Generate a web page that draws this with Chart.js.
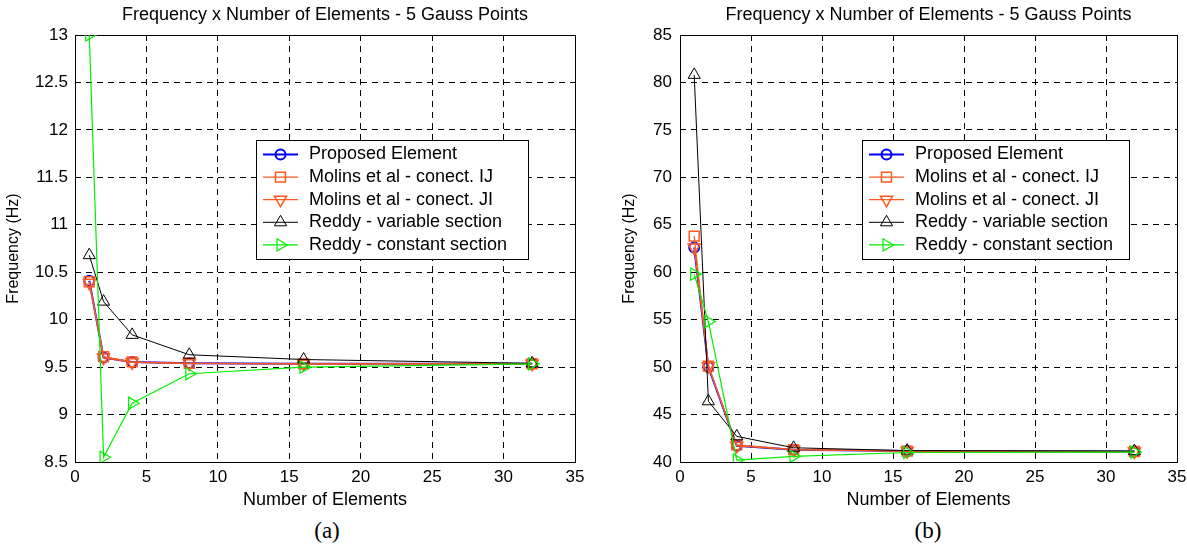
<!DOCTYPE html>
<html>
<head>
<meta charset="utf-8">
<script src="https://cdn.jsdelivr.net/npm/chart.js@4.4.1/dist/chart.umd.min.js"></script>
<style>
  html, body { margin: 0; padding: 0; background: #fff; overflow: hidden; }
  body { width: 1187px; height: 553px; position: relative; }
  canvas { position: absolute; top: 0; }
  #chartA { left: 0; }
  #chartB { left: 605px; }
  .caption { position: absolute; top: 518px; font: 23px 'Liberation Serif', 'Times New Roman', serif; line-height: 26px; transform: translateX(-50%); }
</style>
</head>
<body>
<canvas id="chartA" width="650" height="515"></canvas>
<canvas id="chartB" width="647" height="515"></canvas>
<div class="caption" style="left:327px">(a)</div>
<div class="caption" style="left:928px">(b)</div>
<script>
// number of elements used in the mesh
const elements = [1, 2, 4, 8, 16, 32];
const xTicks = [0, 5, 10, 15, 20, 25, 30, 35];

// (a) frequencies, Hz
const proposedA = [10.41, 9.60, 9.555, 9.54, 9.535, 9.535];
const molinsIJA = [10.40, 9.61, 9.555, 9.54, 9.535, 9.535];
const molinsJIA = [10.39, 9.60, 9.55, 9.54, 9.535, 9.535];
const reddyVarA = [10.68, 10.19, 9.84, 9.63, 9.58, 9.54];
const reddyConstA = [13.00, 8.55, 9.12, 9.43, 9.50, 9.535];
const yTicksA = [8.5, 9, 9.5, 10, 10.5, 11, 11.5, 12, 12.5, 13];

// (b) frequencies, Hz
const proposedB = [62.6, 50.0, 41.7, 41.3, 41.15, 41.1];
const molinsIJB = [63.8, 50.1, 41.8, 41.3, 41.15, 41.1];
const molinsJIB = [62.6, 50.1, 41.7, 41.3, 41.15, 41.1];
const reddyVarB = [80.8, 46.4, 42.7, 41.5, 41.2, 41.15];
const reddyConstB = [59.8, 54.8, 40.2, 40.6, 41.0, 41.05];
const yTicksB = [40, 45, 50, 55, 60, 65, 70, 75, 80, 85];

const seriesNames = [
    'Proposed Element',
    'Molins et al - conect. IJ',
    'Molins et al - conect. JI',
    'Reddy - variable section',
    'Reddy - constant section'
];

const FONT = "'Liberation Sans', Arial, sans-serif";
Chart.defaults.color = '#000';
Chart.defaults.font.family = FONT;

// matlab-ish look for each series
function seriesStyle(i) {
    const styles = [
        { color: '#0000ff', pointStyle: 'circle', rotation: 0, radius: 5, width: 2, pointWidth: 2 },
        { color: '#ff5a1f', pointStyle: 'rect', rotation: 0, radius: 7, width: 1.2, pointWidth: 1.5 },
        { color: '#ff5a1f', pointStyle: 'triangle', rotation: 180, radius: 7, width: 1.2, pointWidth: 1.5 },
        { color: '#000000', pointStyle: 'triangle', rotation: 0, radius: 7, width: 1, pointWidth: 1 },
        { color: '#00ee00', pointStyle: 'triangle', rotation: 90, radius: 7, width: 1.2, pointWidth: 1.2 }
    ];
    return styles[i];
}

const frameAndLegend = {
    id: 'frameAndLegend',
    beforeDatasetsDraw(chart) {
        const { ctx, chartArea } = chart;
        ctx.save();
        ctx.strokeStyle = '#000';
        ctx.lineWidth = 1;
        ctx.setLineDash([]);
        const l = Math.round(chartArea.left) + 0.5, t = Math.round(chartArea.top) + 0.5;
        const r = Math.round(chartArea.right) + 0.5, b = Math.round(chartArea.bottom) + 0.5;
        ctx.strokeRect(l, t, r - l, b - t);
        ctx.restore();
    },
    afterDatasetsDraw(chart, args, opts) {
        const ctx = chart.ctx;
        ctx.save();
        ctx.fillStyle = '#fff';
        ctx.fillRect(opts.left, opts.top, opts.width, opts.height);
        ctx.strokeStyle = '#000';
        ctx.lineWidth = 1;
        ctx.strokeRect(opts.left + 0.5, opts.top + 0.5, opts.width, opts.height);
        ctx.font = '18px ' + FONT;
        ctx.textBaseline = 'middle';
        chart.data.datasets.forEach((ds, i) => {
            const y = opts.top + 14.5 + i * 22.6;
            const x0 = opts.left + 7, x1 = opts.left + 42;
            ctx.strokeStyle = ds.borderColor;
            ctx.lineWidth = ds.borderWidth;
            ctx.beginPath();
            ctx.moveTo(x0, y);
            ctx.lineTo(x1, y);
            ctx.stroke();
            ctx.fillStyle = 'rgba(0,0,0,0)';
            ctx.lineWidth = ds.pointBorderWidth;
            Chart.helpers.drawPoint(ctx, {
                pointStyle: ds.pointStyle,
                rotation: ds.pointRotation,
                radius: ds.pointRadius,
                borderWidth: ds.pointBorderWidth
            }, (x0 + x1) / 2, y);
            ctx.fillStyle = '#000';
            ctx.fillText(ds.label, opts.left + 53, y);
        });
        ctx.restore();
    }
};

function createFrequencyChart(canvasId, seriesList, yTicks, layout) {
    const ctx = document.getElementById(canvasId);
    const datasets = seriesList.map((values, i) => {
        const s = seriesStyle(i);
        return {
            label: seriesNames[i],
            data: values.map((v, k) => ({ x: elements[k], y: v })),
            borderColor: s.color,
            backgroundColor: s.color,
            borderWidth: s.width,
            pointStyle: s.pointStyle,
            pointRotation: s.rotation,
            pointRadius: s.radius,
            pointBorderWidth: s.pointWidth,
            pointBorderColor: s.color,
            pointBackgroundColor: 'rgba(0,0,0,0)',
            tension: 0,
            order: seriesList.length - 1 - i
        };
    });

    ctx.chartInstance = new Chart(ctx, {
        type: 'line',
        data: { datasets: datasets },
        plugins: [frameAndLegend],
        options: {
            responsive: false,
            animation: false,
            devicePixelRatio: 1,
            layout: { padding: 0 },
            scales: {
                x: {
                    type: 'linear',
                    min: 0,
                    max: 35,
                    afterBuildTicks: axis => { axis.ticks = xTicks.map(v => ({ value: v })); },
                    afterFit: axis => { axis.height = layout.xAxisHeight; },
                    grid: { color: '#000', lineWidth: 1, drawTicks: false },
                    border: { display: false, dash: [6, 5] },
                    ticks: { padding: 5, font: { size: 17 }, maxRotation: 0, autoSkip: false,
                             callback: v => String(v) },
                    title: {
                        display: true,
                        text: 'Number of Elements',
                        font: { size: 18 },
                        padding: { top: 0, bottom: layout.xTitlePad }
                    }
                },
                y: {
                    type: 'linear',
                    min: yTicks[0],
                    max: yTicks[yTicks.length - 1],
                    afterBuildTicks: axis => { axis.ticks = yTicks.map(v => ({ value: v })); },
                    afterFit: axis => { axis.width = 75; },
                    grid: { color: '#000', lineWidth: 1, drawTicks: false },
                    border: { display: false, dash: [6, 5] },
                    ticks: { padding: layout.yTickPad, font: { size: 17 }, autoSkip: false,
                             callback: v => String(v) },
                    title: {
                        display: true,
                        text: 'Frequency (Hz)',
                        font: { size: 16 },
                        padding: { top: layout.yTitlePad, bottom: 0 }
                    }
                },
                // empty axis on the right so the title centres over the plot
                yRight: {
                    position: 'right',
                    grid: { display: false },
                    border: { display: false },
                    ticks: { display: false },
                    afterFit: axis => { axis.width = 75; }
                }
            },
            plugins: {
                legend: { display: false },
                tooltip: { enabled: false },
                title: {
                    display: true,
                    text: 'Frequency x Number of Elements - 5 Gauss Points',
                    font: { size: 18, weight: 'normal' },
                    padding: { top: 4, bottom: 9.4 }
                },
                frameAndLegend: layout.legendBox
            }
        }
    });
}

createFrequencyChart('chartA',
    [proposedA, molinsIJA, molinsJIA, reddyVarA, reddyConstA], yTicksA,
    { xAxisHeight: 53, xTitlePad: 4, yTickPad: 7, yTitlePad: 4,
      legendBox: { left: 256, top: 140, width: 272, height: 119 } });

createFrequencyChart('chartB',
    [proposedB, molinsIJB, molinsJIB, reddyVarB, reddyConstB], yTicksB,
    { xAxisHeight: 53, xTitlePad: 4, yTickPad: 8, yTitlePad: 15.4,
      legendBox: { left: 257, top: 140, width: 267, height: 119 } });
</script>
</body>
</html>
